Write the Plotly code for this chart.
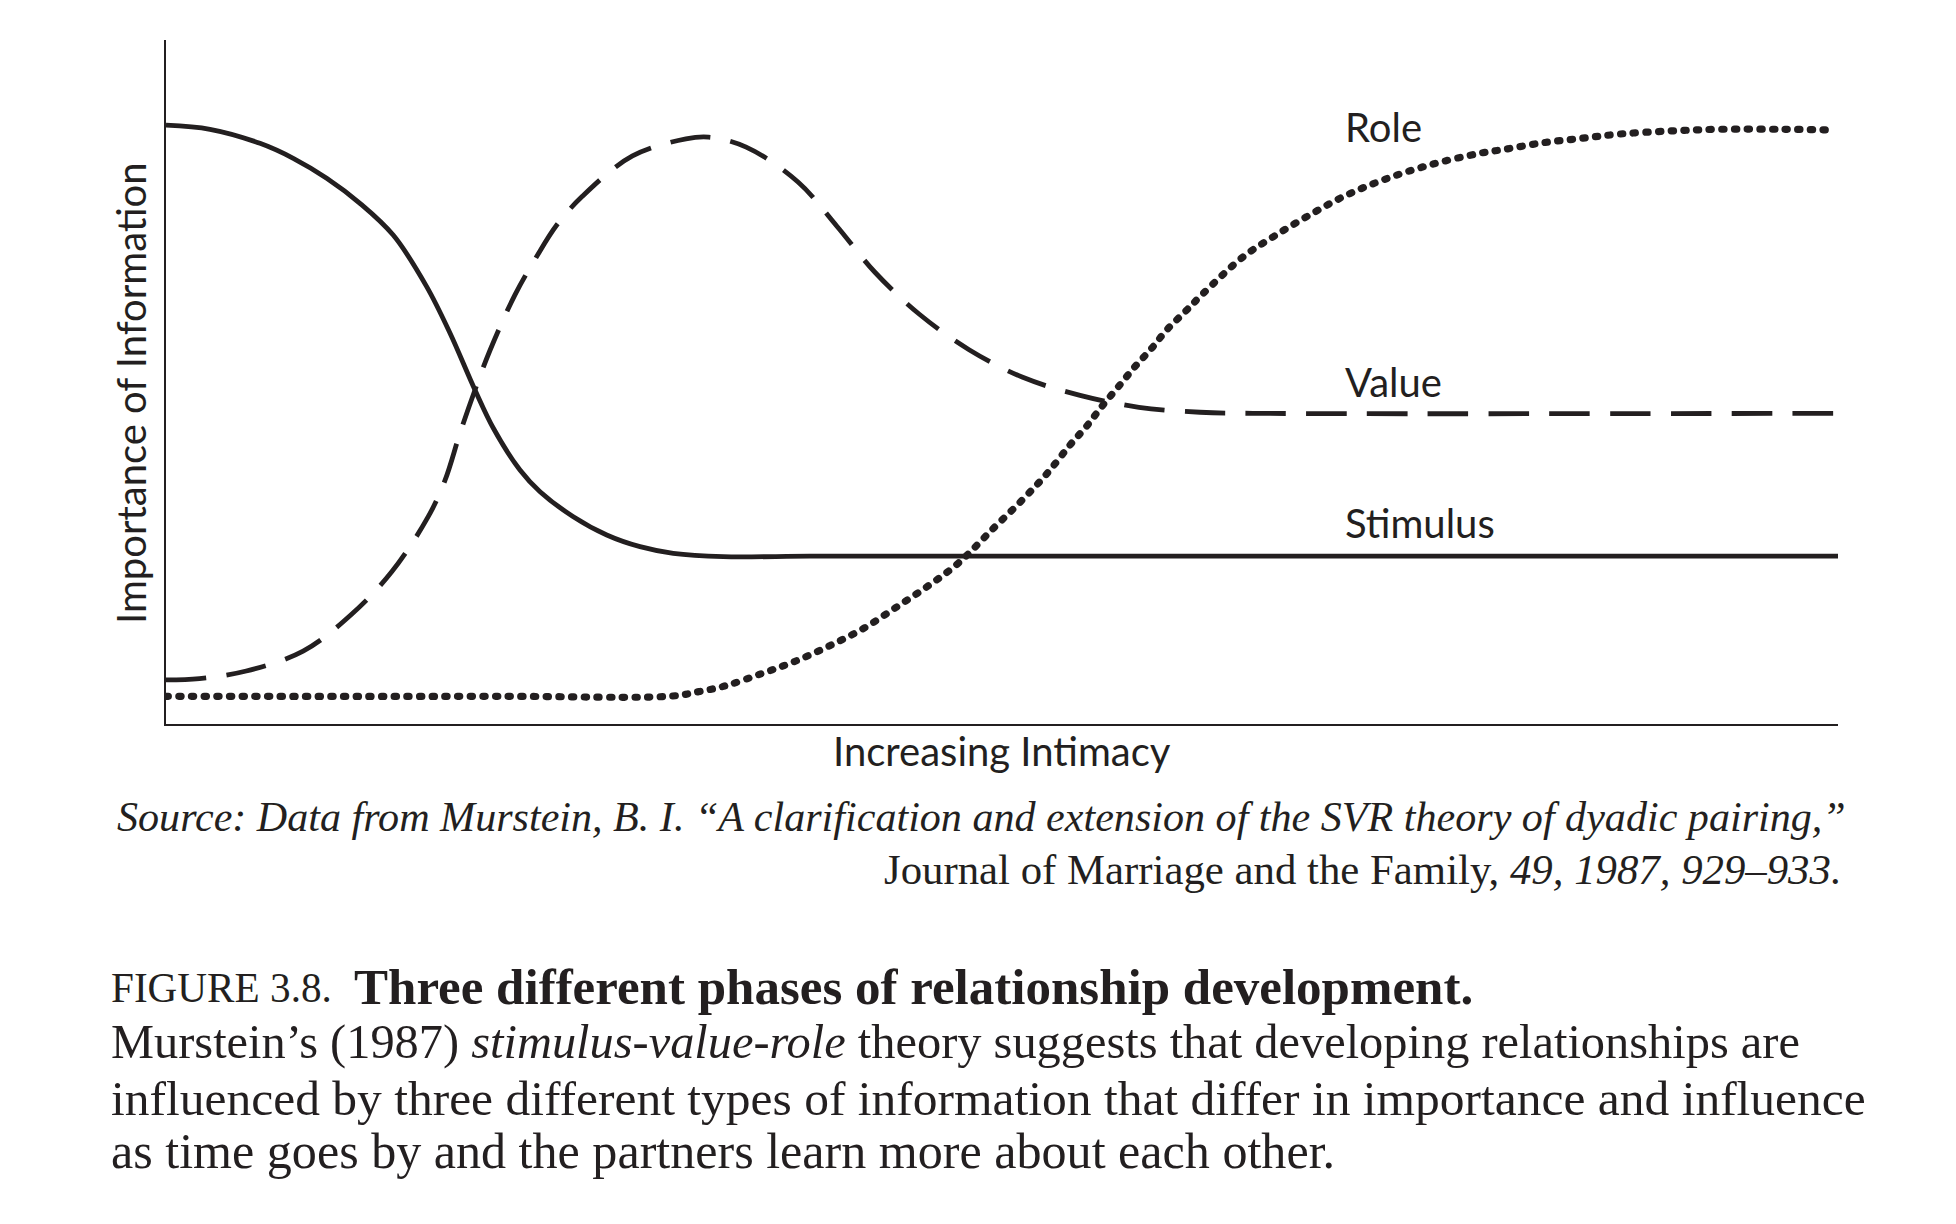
import plotly.graph_objects as go

# ---- data (x: increasing intimacy 0-100, y: importance 0-100) ----
stimulus_x = [0, 2.63, 5.62, 7.61, 9.61, 11.6, 13.6, 15.59, 16.99, 18.48, 19.58, 21.17, 22.37, 24.36, 26.36, 28.35,
              30.34, 33.33, 38.5, 45, 100]
stimulus_y = [87.5, 86.9, 84.85, 82.66, 79.74, 76.08, 71.4, 63.9, 57.08, 48.79, 43.19, 37.09, 33.92, 30.26, 27.59,
              25.88, 24.91, 24.42, 24.5, 24.5, 24.5]

value_x = [0, 2.0, 4.8, 8.2, 11.1, 13.5, 15.69, 16.69, 17.58, 18.48, 19.38, 20.87, 22.17, 23.37, 24.9, 27.9, 31.1,
           32.45, 34.7, 37.8, 40.1, 42.4, 45.04, 48.03, 51.24, 54.67, 58.19, 61.84, 65, 100]
value_y = [6.4, 6.6, 7.7, 10.6, 16.0, 22.2, 30.3, 35.6, 42.46, 48.79, 54.6, 62.7, 68.3, 72.9, 77.1, 83.0, 85.5,
           85.75, 84.3, 79.2, 72.8, 66.0, 59.9, 54.68, 50.64, 48.01, 46.26, 45.53, 45.38, 45.38]

role_x = [0, 20, 30.3, 31.9, 33.4, 35.6, 37.6, 39.7, 41.7, 43.6, 45.5, 47.4, 49.5, 51.25, 52.7, 54.07, 55.07, 55.96,
          56.96, 57.95, 58.95, 59.85, 60.95, 62.04, 64.43, 66.23, 68.22, 70.41, 72.8, 75.6, 78.59, 80.08, 82.37,
          84.67, 86.96, 89.91, 92.9, 96.7, 99.72]
role_y = [4.0, 4.0, 4.05, 4.7, 5.5, 7.3, 9.1, 11.4, 13.9, 16.9, 20.0, 23.5, 28.6, 32.8, 36.6, 40.75, 43.52, 46.35,
          49.27, 52.19, 54.88, 57.56, 60.23, 62.92, 68.27, 71.2, 74.12, 77.05, 79.5, 81.7, 83.4, 83.98, 84.94,
          85.58, 86.21, 86.65, 86.9, 86.9, 86.8]

curve_labels = ["Role", "Value", "Stimulus"]
label_x = [70.4, 70.4, 70.4]
label_y = [87.2, 50.0, 29.3]

x_title = "Increasing Intimacy"
y_title = "Importance of Information"

source_line1 = "<i>Source: Data from Murstein, B. I. “A clarification and extension of the SVR theory of dyadic pairing,”</i>"
source_line2 = "Journal of Marriage and the Family, <i>49, 1987, 929–933.</i>"

figure_label = "FIGURE 3.8."
figure_title = "<b>Three different phases of relationship development.</b>"
caption_lines = [
    "Murstein’s (1987) <i>stimulus-value-role</i> theory suggests that developing relationships are",
    "influenced by three different types of information that differ in importance and influence",
    "as time goes by and the partners learn more about each other.",
]

# ---- figure ----
W, H = 1956, 1224
INK = "#231f20"
SANS = "Lato, 'Open Sans', sans-serif"
SERIF = "'Liberation Serif', 'Times New Roman', serif"

fig = go.Figure()
fig.add_trace(go.Scatter(x=stimulus_x, y=stimulus_y, mode="lines", name="Stimulus",
                         line=dict(color=INK, width=4.8, shape="spline", smoothing=1.0), hoverinfo="skip"))
fig.add_trace(go.Scatter(x=value_x, y=value_y, mode="lines", name="Value",
                         line=dict(color=INK, width=4.8, shape="spline", smoothing=1.0, dash="40.5px,20.3px"),
                         hoverinfo="skip"))
fig.add_trace(go.Scatter(x=role_x, y=role_y, mode="lines", name="Role",
                         line=dict(color=INK, width=7.2, shape="spline", smoothing=1.0, dash="2.3px,10.37px"),
                         hoverinfo="skip"))

x_dom = [166 / W, 1838 / W]
y_dom = [1 - 723.7 / H, 1 - 39.7 / H]

fig.update_layout(
    width=W, height=H,
    margin=dict(l=0, r=0, t=0, b=0),
    paper_bgcolor="white", plot_bgcolor="white",
    showlegend=False,
    xaxis=dict(domain=x_dom, range=[0, 100], showline=True, linecolor=INK, linewidth=2.3,
               showgrid=False, zeroline=False, showticklabels=False, ticks=""),
    yaxis=dict(domain=y_dom, range=[0, 100], showline=True, linecolor=INK, linewidth=2.3,
               showgrid=False, zeroline=False, showticklabels=False, ticks=""),
)

ann = []
for t, lx, ly in zip(curve_labels, label_x, label_y):
    ann.append(dict(text=t, x=lx, y=ly, xref="x", yref="y", xanchor="left", yanchor="middle",
                    showarrow=False, font=dict(family=SANS, size=40, color=INK)))

ann.append(dict(text=x_title, x=(166 + 1838) / 2 / W, y=1 - 751 / H, xref="paper", yref="paper",
                xanchor="center", yanchor="middle", showarrow=False,
                font=dict(family=SANS, size=40, color=INK)))
ann.append(dict(text=y_title, x=131 / W, y=1 - 393 / H, xref="paper", yref="paper",
                xanchor="center", yanchor="middle", textangle=-90, showarrow=False,
                font=dict(family=SANS, size=40, color=INK)))

ann.append(dict(text=source_line1, x=1848 / W, y=1 - 816 / H, xref="paper", yref="paper",
                xanchor="right", yanchor="middle", showarrow=False,
                font=dict(family=SERIF, size=42.1, color=INK)))
ann.append(dict(text=source_line2, x=1844 / W, y=1 - 869 / H, xref="paper", yref="paper",
                xanchor="right", yanchor="middle", showarrow=False,
                font=dict(family=SERIF, size=42.8, color=INK)))

ann.append(dict(text=figure_label, x=108.5 / W, y=1 - 988 / H, xref="paper", yref="paper",
                xanchor="left", yanchor="middle", showarrow=False,
                font=dict(family=SERIF, size=41.2, color=INK)))
ann.append(dict(text=figure_title, x=352 / W, y=1 - 987 / H, xref="paper", yref="paper",
                xanchor="left", yanchor="middle", showarrow=False,
                font=dict(family=SERIF, size=51.0, color=INK)))

cap_y = [1042, 1098, 1151]
cap_size = [48.4, 49.5, 50.1]
for t, yy, sz in zip(caption_lines, cap_y, cap_size):
    ann.append(dict(text=t, x=108.5 / W, y=1 - yy / H, xref="paper", yref="paper",
                    xanchor="left", yanchor="middle", showarrow=False,
                    font=dict(family=SERIF, size=sz, color=INK)))

fig.update_layout(annotations=ann)

# round line caps turn the short dashes of the "Role" line into round dots
round_dots = """
var gd = document.getElementById('{plot_id}');
function roundDots() {
  var tr = gd.querySelectorAll('.scatterlayer .trace');
  if (tr.length > 2) {
    tr[2].querySelectorAll('path.js-line').forEach(function (p) {
      p.style.strokeLinecap = 'round';
      p.setAttribute('stroke-linecap', 'round');
    });
  }
}
roundDots();
setTimeout(roundDots, 0);
setTimeout(roundDots, 200);
window.addEventListener('load', roundDots);
gd.on('plotly_afterplot', roundDots);
"""
fig.write_html("out.html", post_script=round_dots)
